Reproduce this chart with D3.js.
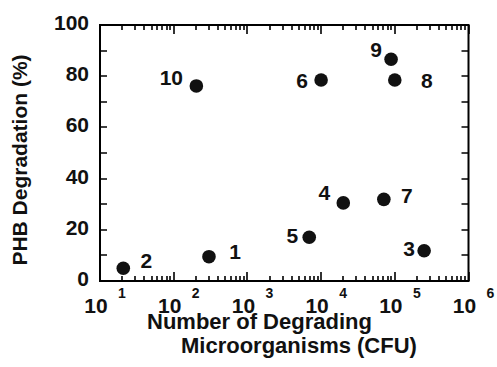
<!DOCTYPE html>
<html>
<head>
<meta charset="utf-8">
<script src="https://cdn.jsdelivr.net/npm/d3@7"></script>
<style>
  body { margin: 0; background: #fff; }
  text { font-family: "Liberation Sans", Arial, Helvetica, sans-serif; font-weight: bold; fill: #111; }
</style>
</head>
<body>
<div id="chart"></div>
<script>
// sample ids and readings
const sampleIds = ['1', '2', '3', '4', '5', '6', '7', '8', '9', '10']
const cfuCounts = [301, 20.7, 2.5e5, 2.0e4, 6.9e3, 1.0e4, 7.1e4, 1.0e5, 8.9e4, 203]
const degradation = [9.5, 5.0, 11.8, 30.5, 17.1, 78.5, 31.9, 78.5, 86.6, 76.2]

const xExponents = [1, 2, 3, 4, 5, 6]
const yTicks = [0, 20, 40, 60, 80, 100]

const width = 497, height = 367
const margin = { top: 25, right: 28.5, bottom: 86, left: 100 }
const innerWidth = width - margin.left - margin.right
const innerHeight = height - margin.top - margin.bottom

const svg = d3.select('#chart').append('svg')
  .attr('width', width)
  .attr('height', height)
  .style('display', 'block')

const g = svg.append('g')
  .attr('transform', `translate(${margin.left},${margin.top})`)

const x = d3.scaleLog()
  .domain([10, 1e6])
  .range([0, innerWidth])

const y = d3.scaleLinear()
  .domain([0, 100])
  .range([innerHeight, 0])

const majorX = xExponents.map(e => Math.pow(10, e))
const minorX = x.ticks().filter(v => !majorX.includes(v))
const yMinor = d3.range(10, 100, 10)

// inward tick marks on all four sides, drawn as one path
const xTickData = minorX.map(v => ({ v, len: 5 })).concat(majorX.map(v => ({ v, len: 9 })))
const tp = d3.path()
xTickData.forEach(d => {
  const px = Math.round(x(d.v))
  tp.moveTo(px, innerHeight); tp.lineTo(px, innerHeight - d.len)
  tp.moveTo(px, 0); tp.lineTo(px, d.len)
})
yMinor.forEach(v => {
  const py = Math.round(y(v))
  tp.moveTo(0, py); tp.lineTo(7, py)
  tp.moveTo(innerWidth, py); tp.lineTo(innerWidth - 7, py)
})

g.append('path')
  .attr('d', tp.toString())
  .attr('fill', 'none')
  .attr('stroke', '#000')
  .attr('stroke-width', 1.6)

// frame
g.append('rect')
  .attr('x', 0).attr('y', 0)
  .attr('width', innerWidth).attr('height', innerHeight)
  .attr('fill', 'none')
  .attr('stroke', '#000')
  .attr('stroke-width', 2)

// y tick labels
g.selectAll('.ylab')
  .data(yTicks)
  .enter().append('text')
  .attr('class', 'ylab')
  .attr('x', -11)
  .attr('y', d => y(d) + 5)
  .attr('text-anchor', 'end')
  .style('font-size', '21px')
  .text(d => d)

// x tick labels: 10 with superscript exponent
const xl = g.selectAll('.xlab')
  .data(xExponents)
  .enter().append('g')
  .attr('class', 'xlab')
  .attr('transform', e => `translate(${x(Math.pow(10, e))},${innerHeight})`)

xl.append('text')
  .attr('x', -4).attr('y', 32)
  .attr('text-anchor', 'middle')
  .style('font-size', '21px')
  .text('10')

xl.append('text')
  .attr('x', 22).attr('y', 17)
  .attr('text-anchor', 'middle')
  .style('font-size', '14px')
  .text(e => e)

// points
const pts = sampleIds.map((id, i) => ({ id, cfu: cfuCounts[i], deg: degradation[i] }))

g.selectAll('.dot')
  .data(pts)
  .enter().append('circle')
  .attr('class', 'dot')
  .attr('cx', d => x(d.cfu))
  .attr('cy', d => y(d.deg))
  .attr('r', 6.8)
  .attr('fill', '#111')

// label placement next to each point
const labelOffset = {
  '1': [26, -5], '2': [23, -8], '3': [-15, -2], '4': [-19, -10], '5': [-17, -2],
  '6': [-19, 0], '7': [23, -4], '8': [32, 0], '9': [-15, -10], '10': [-25, -8]
}

g.selectAll('.plab')
  .data(pts)
  .enter().append('text')
  .attr('class', 'plab')
  .attr('x', d => x(d.cfu) + labelOffset[d.id][0])
  .attr('y', d => y(d.deg) + labelOffset[d.id][1] + 7.5)
  .attr('text-anchor', 'middle')
  .style('font-size', '21px')
  .text(d => d.id)

// axis titles
svg.append('text')
  .attr('transform', 'translate(27,160) rotate(-90)')
  .attr('text-anchor', 'middle')
  .style('font-size', '21px')
  .text('PHB Degradation (%)')

svg.append('text')
  .attr('x', 147).attr('y', 329)
  .style('font-size', '22px')
  .text('Number of Degrading')

svg.append('text')
  .attr('x', 181).attr('y', 353)
  .style('font-size', '22px')
  .text('Microorganisms (CFU)')
</script>
</body>
</html>
